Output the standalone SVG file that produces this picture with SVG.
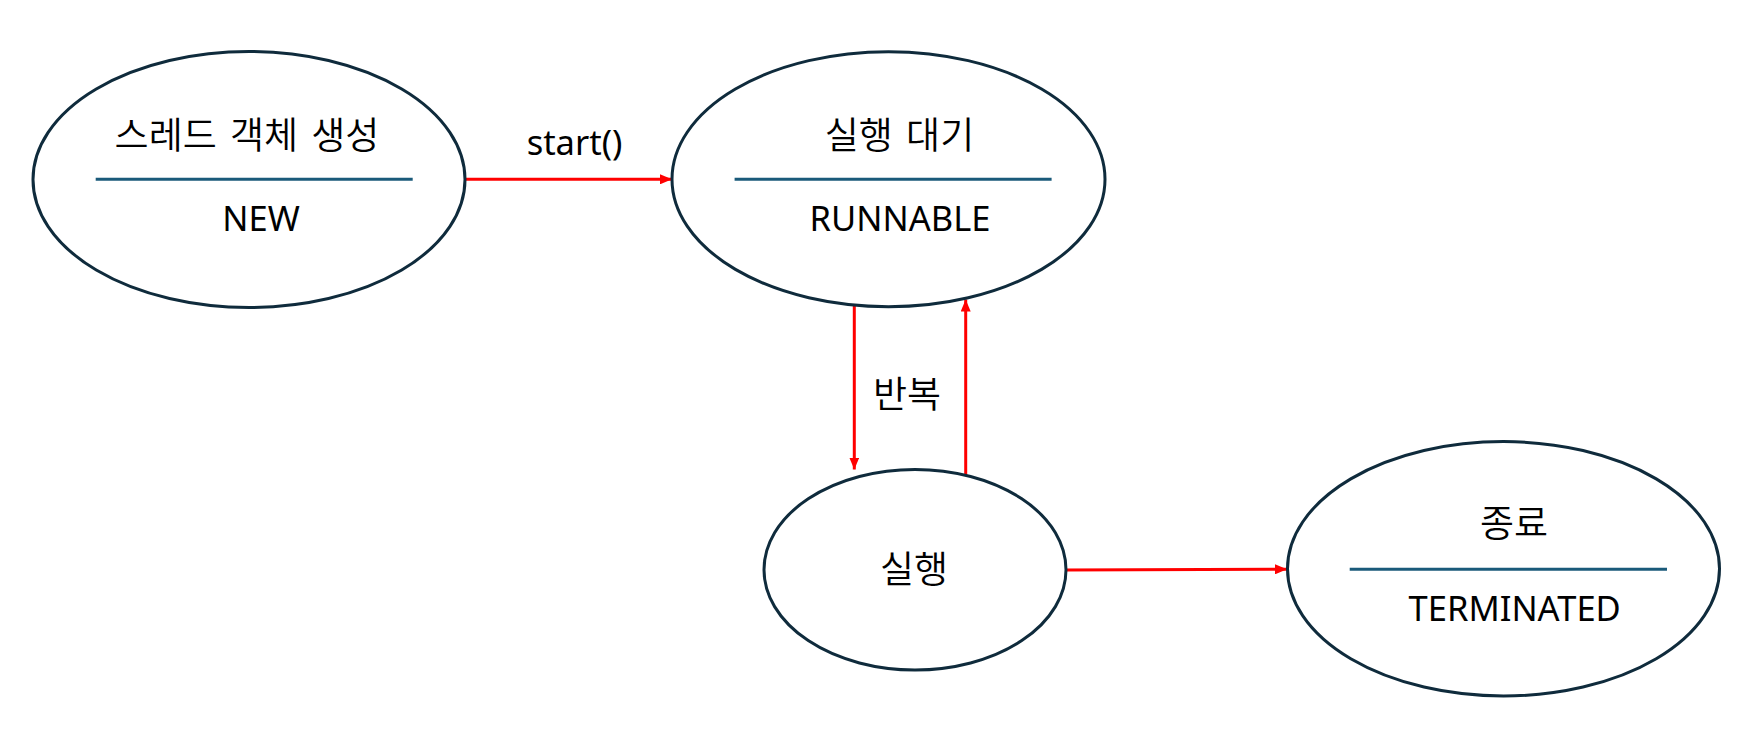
<svg xmlns="http://www.w3.org/2000/svg" width="1747" height="745" viewBox="0 0 1747 745">
  <style>
    .state { fill: #ffffff; stroke: #0f2b3c; stroke-width: 3; }
    .divider { stroke: #1a5a7a; stroke-width: 3; }
    .ko { font-family: "Noto Sans CJK KR", "Noto Sans", sans-serif; font-size: 37px; font-weight: 350; word-spacing: 5px; fill: #000000; text-anchor: middle; }
    .en { font-family: "Noto Sans", "Liberation Sans", sans-serif; font-size: 34.5px; fill: #000000; text-anchor: middle; }
    .edge { stroke: #ff0000; stroke-width: 3; fill: none; marker-end: url(#arrow); }
  </style>
  <defs>
    <marker id="arrow" viewBox="0 0 12 10" refX="12" refY="5" markerWidth="12" markerHeight="10" markerUnits="userSpaceOnUse" orient="auto">
      <path d="M0,0 L12,5 L0,10 Z" fill="#ff0000"/>
    </marker>
  </defs>
  <rect width="1747" height="745" fill="#ffffff"/>

  <g id="connectors">
    <line class="edge" x1="466" y1="179.3" x2="672" y2="179.3"/>
    <line class="edge" x1="854.3" y1="305" x2="854.3" y2="469.5"/>
    <line class="edge" x1="965.7" y1="475.5" x2="965.7" y2="299.5"/>
    <line class="edge" x1="1066" y1="570" x2="1287" y2="569.3"/>
    <text class="en" x="574.5" y="155" font-size="33px">start()</text>
    <text class="ko" x="907" y="408">반복</text>
  </g>

  <g id="node-new">
    <ellipse class="state" cx="249" cy="179.5" rx="216" ry="128"/>
    <line class="divider" x1="95.7" y1="179.3" x2="412.7" y2="179.3"/>
    <text class="ko" x="247" y="149">스레드 객체 생성</text>
    <text class="en" x="261" y="231">NEW</text>
  </g>

  <g id="node-runnable">
    <ellipse class="state" cx="888.5" cy="179.2" rx="216.5" ry="127.5"/>
    <line class="divider" x1="734.6" y1="179.3" x2="1051.6" y2="179.3"/>
    <text class="ko" x="899.5" y="149">실행 대기</text>
    <text class="en" x="900" y="231">RUNNABLE</text>
  </g>

  <g id="node-running">
    <ellipse class="state" cx="915" cy="569.7" rx="151" ry="100.3"/>
    <text class="ko" x="914" y="583">실행</text>
  </g>

  <g id="node-terminated">
    <ellipse class="state" cx="1503.5" cy="568.8" rx="216" ry="127.2"/>
    <line class="divider" x1="1349.7" y1="569.3" x2="1667" y2="569.3"/>
    <text class="ko" x="1514" y="536.7">종료</text>
    <text class="en" x="1514.7" y="621">TERMINATED</text>
  </g>
</svg>
